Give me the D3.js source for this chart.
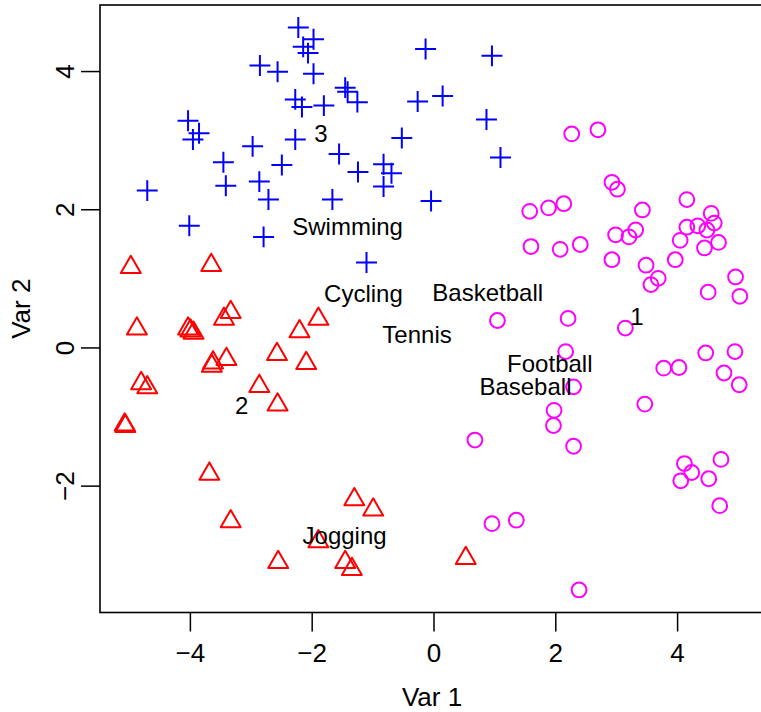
<!DOCTYPE html>
<html>
<head>
<meta charset="utf-8">
<script src="https://cdn.jsdelivr.net/npm/d3@7/dist/d3.min.js"></script>
<style>
  html, body { margin: 0; padding: 0; background: #fff; }
  svg { display: block; }
  text { font-family: "Liberation Sans", Arial, Helvetica, sans-serif; fill: #000; }
</style>
</head>
<body>
<svg id="chart" width="761" height="712"></svg>
<script>
// ---- Data ----
const cluster3X = [-2.22,-1.97,-2.14,-2.06,-2.85,-2.56,-1.97,-2.27,-2.16,-1.80,-1.45,-1.41,-1.25,-0.13,0.96,-0.26,0.15,0.87,-0.52,1.10,-1.55,-1.24,-0.82,-0.69,-0.82,-1.66,-0.04,-4.03,-3.85,-3.95,-2.27,-2.97,-3.45,-2.49,-4.70,-3.41,-2.86,-2.71,-4.01,-2.79,-1.10];
const cluster3Y = [4.63,4.46,4.35,4.26,4.08,3.99,3.96,3.59,3.48,3.50,3.76,3.70,3.55,4.32,4.22,3.56,3.64,3.30,3.03,2.75,2.80,2.54,2.65,2.52,2.33,2.14,2.12,3.28,3.10,3.01,3.01,2.91,2.68,2.64,2.27,2.34,2.40,2.14,1.76,1.60,1.23];

const cluster2X = [-4.97,-3.65,-4.87,-4.03,-3.99,-3.94,-3.33,-3.44,-2.20,-1.89,-2.57,-2.09,-3.62,-3.64,-3.40,-2.86,-2.56,-4.80,-4.70,-5.07,-5.06,-3.68,-3.33,-2.55,-1.30,-0.99,-1.89,-1.45,-1.34,0.53];
const cluster2Y = [1.16,1.19,0.27,0.27,0.24,0.21,0.51,0.41,0.23,0.41,-0.10,-0.23,-0.22,-0.27,-0.17,-0.56,-0.83,-0.52,-0.58,-1.12,-1.14,-1.83,-2.52,-3.11,-2.20,-2.35,-2.81,-3.11,-3.21,-3.05];

const cluster1X = [2.27,2.70,2.93,3.02,4.16,1.58,1.89,2.14,3.43,4.56,4.61,4.49,4.34,4.16,3.32,3.21,2.99,4.05,4.45,4.68,1.60,2.08,2.41,2.93,3.97,3.49,3.69,3.57,4.96,4.51,5.03,1.05,2.21,3.15,2.17,4.47,4.95,3.78,4.03,4.77,5.02,2.30,3.47,1.98,1.97,0.68,2.30,4.12,4.24,4.06,4.72,4.52,4.70,0.96,1.36,2.39];
const cluster1Y = [3.09,3.15,2.39,2.29,2.14,1.97,2.02,2.08,1.99,1.94,1.80,1.70,1.76,1.74,1.70,1.60,1.63,1.55,1.44,1.52,1.46,1.42,1.49,1.27,1.27,1.19,1.00,0.91,1.02,0.80,0.74,0.39,0.42,0.28,-0.06,-0.08,-0.06,-0.30,-0.29,-0.37,-0.54,-0.57,-0.82,-0.91,-1.13,-1.34,-1.43,-1.68,-1.81,-1.93,-1.62,-1.90,-2.29,-2.55,-2.50,-3.51];

const labelText = ["3","Swimming","Cycling","Basketball","Tennis","Football","Baseball","1","2","Jogging"];
const labelX    = [-1.85,-1.41,-1.15,0.89,-0.27,1.91,1.51,3.34,-3.15,-1.46];
const labelY    = [3.10,1.75,0.78,0.79,0.185,-0.236,-0.567,0.45,-0.84,-2.72];

const xTicks = [-4,-2,0,2,4];
const yTicks = [-2,0,2,4];
const xLimits = [-5.476, 5.427];
const yLimits = [-3.836, 4.956];
const xTitle = "Var 1";
const yTitle = "Var 2";

// ---- Layout ----
const plot = {left: 100, right: 764, top: 5, bottom: 612.5};
const svg = d3.select("#chart");
const x = d3.scaleLinear().domain(xLimits).range([plot.left, plot.right]);
const y = d3.scaleLinear().domain(yLimits).range([plot.bottom, plot.top]);
const fmt = d => d3.format("")(d).replace("-", "\u2212");

// Axes
const gx = svg.append("g").attr("transform", `translate(0,${plot.bottom})`)
  .call(d3.axisBottom(x).tickValues(xTicks).tickSize(19).tickFormat(fmt));
gx.select(".domain").remove();
gx.selectAll(".tick line").attr("stroke", "#000").attr("stroke-width", 1.5);
gx.selectAll(".tick text").attr("y", 49.5).attr("dy", null)
  .style("font-size", "26px").attr("fill", "#000");

const gy = svg.append("g").attr("transform", `translate(${plot.left},0)`)
  .call(d3.axisLeft(y).tickValues(yTicks).tickSize(19).tickFormat(fmt));
gy.select(".domain").remove();
gy.selectAll(".tick line").attr("stroke", "#000").attr("stroke-width", 1.5);
gy.selectAll(".tick text")
  .attr("x", null).attr("dy", null)
  .attr("transform", "translate(-26,0) rotate(-90)")
  .attr("text-anchor", "middle")
  .style("font-size", "26px").attr("fill", "#000");

// Box
svg.append("rect")
  .attr("x", plot.left).attr("y", plot.top)
  .attr("width", plot.right - plot.left).attr("height", plot.bottom - plot.top)
  .attr("fill", "none").attr("stroke", "#000").attr("stroke-width", 1.6);

// Titles
svg.append("text").attr("x", (plot.left + plot.right) / 2).attr("y", 706)
  .attr("text-anchor", "middle").style("font-size", "26px").text(xTitle);
svg.append("text")
  .attr("transform", `translate(30,${(plot.top + plot.bottom) / 2}) rotate(-90)`)
  .attr("text-anchor", "middle").style("font-size", "26px").text(yTitle);

// Points
const pts = svg.append("g");
const r = 7.4;
// cluster 1: circles (magenta)
pts.append("g").selectAll("circle").data(d3.range(cluster1X.length)).join("circle")
  .attr("cx", i => x(cluster1X[i])).attr("cy", i => y(cluster1Y[i]))
  .attr("r", r).attr("fill", "none").attr("stroke", "#FF00FF").attr("stroke-width", 2);
// cluster 2: triangles (red)
const tri = `M0,${-1.5551*r}L${1.3468*r},${0.7776*r}L${-1.3468*r},${0.7776*r}Z`;
pts.append("g").selectAll("path").data(d3.range(cluster2X.length)).join("path")
  .attr("transform", i => `translate(${x(cluster2X[i])},${y(cluster2Y[i])})`)
  .attr("d", tri).attr("fill", "none").attr("stroke", "#FF0000").attr("stroke-width", 2)
  .attr("stroke-linejoin", "round");
// cluster 3: crosses (blue)
const c = Math.SQRT2 * r;
pts.append("g").selectAll("path").data(d3.range(cluster3X.length)).join("path")
  .attr("transform", i => `translate(${x(cluster3X[i])},${y(cluster3Y[i])})`)
  .attr("d", `M${-c},0H${c}M0,${-c}V${c}`)
  .attr("fill", "none").attr("stroke", "#0000FF").attr("stroke-width", 2);

// Labels
svg.append("g").selectAll("text").data(d3.range(labelText.length)).join("text")
  .attr("x", i => x(labelX[i])).attr("y", i => y(labelY[i]) + 8.6)
  .attr("text-anchor", "middle").style("font-size", "24px")
  .text(i => labelText[i]);
</script>
</body>
</html>
